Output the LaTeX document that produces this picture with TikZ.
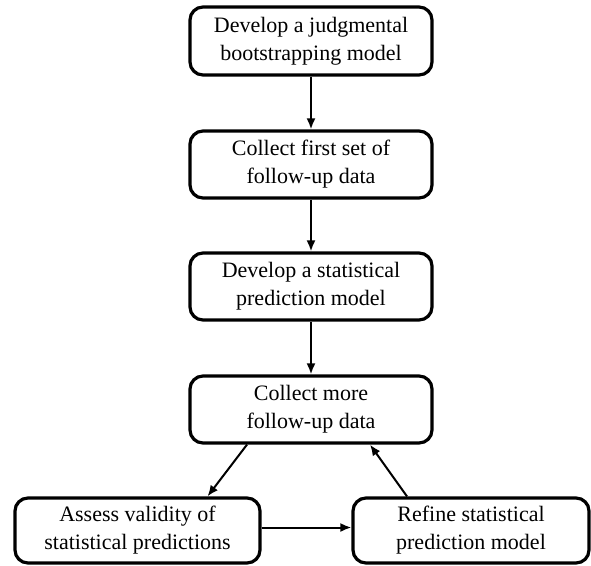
\documentclass[tikz,border=0pt]{standalone}
\usepackage{fontspec}
\setmainfont{Liberation Serif}
\usetikzlibrary{arrows.meta}
\begin{document}
\begin{tikzpicture}[x=1pt,y=1pt,
  box/.style={draw=black, line width=3.2pt, rounded corners=13pt, fill=white,
    align=center, inner sep=0pt, font=\fontsize{22}{28}\selectfont},
  arr/.style={line width=2pt, -{Latex[length=11pt,width=9pt]}}]
\useasboundingbox (0,0) rectangle (591,-565);
\node[box, minimum width=242pt, minimum height=68pt] (b1) at (311,-41) {Develop a judgmental\\bootstrapping model};
\node[box, minimum width=242pt, minimum height=67pt] (b2) at (311,-164.5) {Collect first set of\\follow-up data};
\node[box, minimum width=242pt, minimum height=67pt] (b3) at (311,-286.5) {Develop a statistical\\prediction model};
\node[box, minimum width=242pt, minimum height=67pt] (b4) at (311,-409.5) {Collect more\\follow-up data};
\node[box, minimum width=245pt, minimum height=65pt] (b5) at (137.5,-530.5) {Assess validity of\\statistical predictions};
\node[box, minimum width=236pt, minimum height=65pt] (b6) at (471,-530.5) {Refine statistical\\prediction model};
\draw[arr] (b1) -- (b2);
\draw[arr] (b2) -- (b3);
\draw[arr] (b3) -- (b4);
\draw[arr] ([xshift=-64pt]b4.south) -- ([xshift=70pt]b5.north);
\draw[arr] ([yshift=3pt]b5.east) -- ([yshift=3pt]b6.west);
\draw[arr] ([xshift=-64pt]b6.north) -- ([xshift=59pt]b4.south);
\end{tikzpicture}
\end{document}
